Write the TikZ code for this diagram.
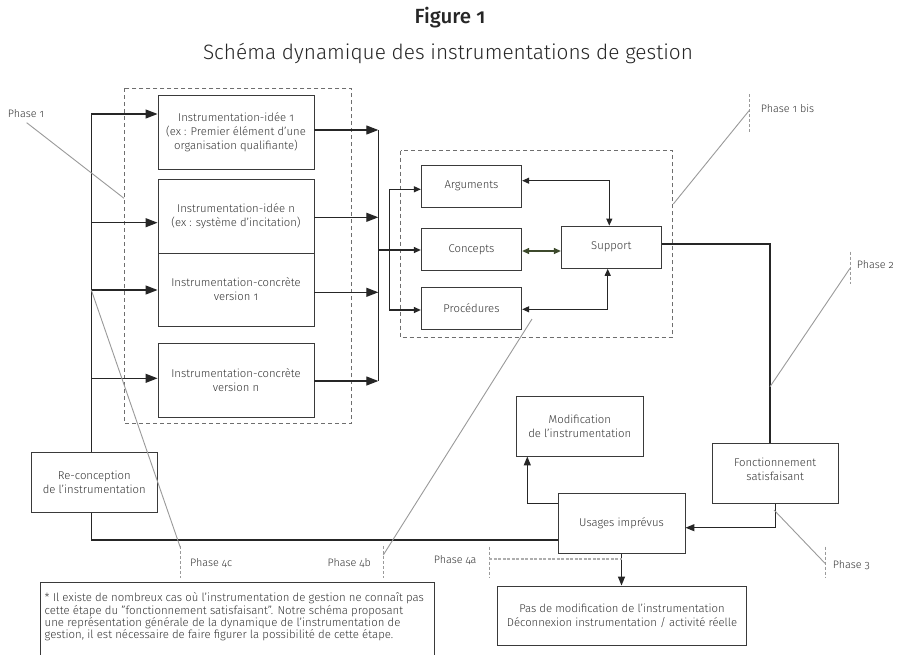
\documentclass[tikz,border=0pt]{standalone}
\usepackage{fontspec}
\setmainfont{Fira Sans}[Numbers=OldStyle, UprightFont=* Light, BoldFont=* Medium]
\usetikzlibrary{arrows.meta}

\definecolor{linecol}{HTML}{262626}
\definecolor{boxcol}{HTML}{3A3A3A}
\definecolor{textcol}{HTML}{333333}
\definecolor{leadcol}{HTML}{9A9A9A}
\definecolor{dashcol}{HTML}{6E6E6E}
\definecolor{olivecol}{HTML}{3D4A2C}

\newcommand\boxfont{\fontsize{11.3}{14}\selectfont}
\newcommand\phasefont{\fontsize{10.8}{12}\selectfont}

\tikzset{
  box/.style={draw=boxcol, line width=0.9pt, inner sep=2pt, align=center,
    text=textcol, font=\boxfont},
  conn/.style={draw=linecol, line width=1.2pt},
  arrbig/.style={conn, -{Triangle[length=12pt,width=9pt]}},
  arrmid/.style={conn, -{Triangle[length=9pt,width=7pt]}},
  arrsmall/.style={conn, -{Triangle[length=7pt,width=6pt]}},
  arrboth/.style={conn, {Triangle[length=7pt,width=6pt]}-{Triangle[length=7pt,width=6pt]}},
  groupbox/.style={draw=dashcol, line width=0.8pt, dash pattern=on 4pt off 3pt},
  leader/.style={draw=leadcol, line width=0.9pt},
  phasetick/.style={draw=leadcol, line width=1pt, dash pattern=on 3pt off 2pt},
  phaselabel/.style={text=textcol, font=\phasefont, inner sep=0pt},
}

\begin{document}
\begin{tikzpicture}[x=1pt,y=-1pt]
\useasboundingbox (0,0) rectangle (899,654);
\fill[white] (0,0) rectangle (899,654);

% titles
\node[text=black!85, font=\bfseries\fontsize{20.5}{24}\selectfont] (fig) at (450,18) {Figure 1};
\node[text=black!85, font=\fontsize{20.8}{25}\selectfont] (sub) at (448,53) {Schéma dynamique des instrumentations de gestion};

% dashed groups
\draw[groupbox] (124,88.3) rectangle (351.7,423.3);
\draw[groupbox] (400.7,150.7) rectangle (672.3,337.7);

% instrumentation boxes
\node[box, minimum width=156, minimum height=74] (idea1) at (236,132)
  {Instrumentation-idée 1\\(ex : Premier élément d'une\\organisation qualifiante)};
\node[box, minimum width=156, minimum height=74] (idean) at (236,216)
  {Instrumentation-idée n\\(ex : système d'incitation)};
\node[box, minimum width=156, minimum height=73] (conc1) at (236,289.5)
  {Instrumentation-concrète\\version 1};
\node[box, minimum width=156, minimum height=74] (concn) at (236,380)
  {Instrumentation-concrète\\version n};

% components
\node[box, minimum width=100.4, minimum height=42.3] (args) at (471.5,186.2) {Arguments};
\node[box, minimum width=100.4, minimum height=42] (concepts) at (471.5,249.3) {Concepts};
\node[box, minimum width=100.4, minimum height=42] (procs) at (471.5,308.3) {Procédures};
\node[box, minimum width=100, minimum height=42.3] (support) at (611.3,247.2) {Support};

% lower boxes
\node[box, minimum width=127, minimum height=60] (modif) at (579.8,426)
  {Modification\\de l'instrumentation};
\node[box, minimum width=126.3, minimum height=60, text depth=8pt] (fonct) at (775.2,473.3)
  {Fonctionnement\\satisfaisant};
\node[box, minimum width=127, minimum height=60] (usages) at (621.5,523.3) {Usages imprévus};
\node[box, minimum width=126.7, minimum height=60] (recon) at (94.3,482.3)
  {Re-conception\\de l'instrumentation};
\node[box, minimum width=249, minimum height=59] (pas) at (622,615.5)
  {Pas de modification de l'instrumentation\\Déconnexion instrumentation / activité réelle};

% footnote frame (runs off the lower edge)
\draw[draw=boxcol, line width=0.9pt] (40,660) -- (40,582.3) -- (434.5,582.3) -- (434.5,660);
\node[anchor=north west, align=left, inner sep=0pt, text=textcol,
  font=\fontsize{11.4}{12.4}\selectfont] (note) at (44.5,592.5)
  {* Il existe de nombreux cas où l'instrumentation de gestion ne connaît pas\\
   cette étape du "fonctionnement satisfaisant". Notre schéma proposant\\
   une représentation générale de la dynamique de l'instrumentation de\\
   gestion, il est nécessaire de faire figurer la possibilité de cette étape.};

% left bar feeding the instrumentations
\coordinate (lbtop) at (91.3,114);
\coordinate (lbin2) at (91.3,222.7);
\coordinate (lbin3) at (91.3,290);
\coordinate (lbin4) at (91.3,378.3);
\coordinate (lbbot) at (91.3,540);
\draw[conn] (lbtop) -- (lbtop |- recon.north);
\draw[arrbig] (lbtop) -- (lbtop -| idea1.west);
\draw[arrbig] (lbin2) -- (lbin2 -| idean.west);
\draw[arrbig] (lbin3) -- (lbin3 -| conc1.west);
\draw[arrbig] (lbin4) -- (lbin4 -| concn.west);
\draw[conn] (lbtop |- recon.south) -- (lbbot) -- (lbbot -| usages.west);

% right bar collecting the instrumentations
\coordinate (rbtop) at (378.3,130);
\coordinate (rb2) at (378.3,217.3);
\coordinate (rb3) at (378.3,292.3);
\coordinate (rbbot) at (378.3,381);
\coordinate (rbmid) at (378.3,250);
\draw[conn, line width=1.6pt] (rbtop) -- (rbbot);
\draw[arrbig] (idea1.east |- rbtop) -- (rbtop);
\draw[arrbig] (idean.east |- rb2) -- (rb2);
\draw[arrbig] (conc1.east |- rb3) -- (rb3);
\draw[arrbig] (concn.east |- rbbot) -- (rbbot);

% fan out to the components
\coordinate (fan) at (389.3,250);
\coordinate (fantop) at (389.3,189.3);
\coordinate (fanbot) at (389.3,310);
\draw[conn] (rbmid) -- (fan);
\draw[conn] (fantop) -- (fanbot);
\draw[arrsmall] (fantop) -- (fantop -| args.west);
\draw[arrsmall] (fan) -- (fan -| concepts.west);
\draw[arrsmall] (fanbot) -- (fanbot -| procs.west);

% links with the support
\coordinate (as) at (609.3,180.7);
\coordinate (cs) at (540,251);
\coordinate (ps) at (607.7,309.3);
\draw[arrboth] (args.east |- as) -- (as) -- (as |- support.north);
\draw[arrboth, draw=olivecol] (concepts.east |- cs) -- (support.west |- cs);
\draw[arrboth] (procs.east |- ps) -- (ps) -- (ps |- support.south);

% support to satisfactory operation, then unexpected uses
\coordinate (sf) at (770,244);
\coordinate (fu) at (775.7,527.7);
\coordinate (um) at (527.3,503.3);
\draw[conn] (support.east |- sf) -- (sf) -- (sf |- fonct.north);
\draw[arrmid] (fu |- fonct.south) -- (fu) -- (fu -| usages.east);
\draw[arrmid] (usages.west |- um) -- (um) -- (um |- modif.south);
\draw[arrmid] (usages.south) -- (usages.south |- pas.north);

% phase markers
\node[phaselabel] (ph1) at (26,114) {Phase 1};
\node[phaselabel, anchor=west] (ph1b) at (760.7,108.3) {Phase 1 bis};
\node[phaselabel, anchor=west] (ph2) at (856.7,265) {Phase 2};
\node[phaselabel, anchor=west] (ph3) at (832.7,565) {Phase 3};
\node[phaselabel, anchor=east] (ph4a) at (476.7,560) {Phase 4a};
\node[phaselabel, anchor=east] (ph4b) at (371,562.7) {Phase 4b};
\node[phaselabel, anchor=west] (ph4c) at (190,562.7) {Phase 4c};

\draw[phasetick] (749,94) -- (749,133.3);
\draw[phasetick] (850,251.7) -- (850,284);
\draw[phasetick] (825,546.7) -- (825,578.3);
\draw[phasetick] (489.3,546.7) -- (489.3,578);
\draw[phasetick] (383.3,546) -- (383.3,578);
\draw[phasetick] (180.5,546) -- (180.5,578);

\coordinate (l1a) at (26.7,122.7);   \coordinate (l1b) at (124,198.3);
\coordinate (l1ba) at (749,110.7);   \coordinate (l1bb) at (673.3,204);
\coordinate (l2a) at (850,268.3);    \coordinate (l2b) at (770,386.7);
\coordinate (l3a) at (774,510);      \coordinate (l3b) at (825,563.3);
\coordinate (l4ba) at (532,319);     \coordinate (l4bb) at (383.3,555);
\coordinate (l4ca) at (91.3,290);    \coordinate (l4cb) at (180.5,548);
\coordinate (l4aa) at (489.3,558.7);
\draw[leader] (l1a) -- (l1b);
\draw[leader] (l1ba) -- (l1bb);
\draw[leader] (l2a) -- (l2b);
\draw[leader] (l3a) -- (l3b);
\draw[leader] (l4ba) -- (l4bb);
\draw[leader] (l4ca) -- (l4cb);
\draw[draw=leadcol!80, line width=1.6pt, dash pattern=on 3pt off 1.5pt] (l4aa) -- (l4aa -| usages.south);
\end{tikzpicture}
\end{document}
